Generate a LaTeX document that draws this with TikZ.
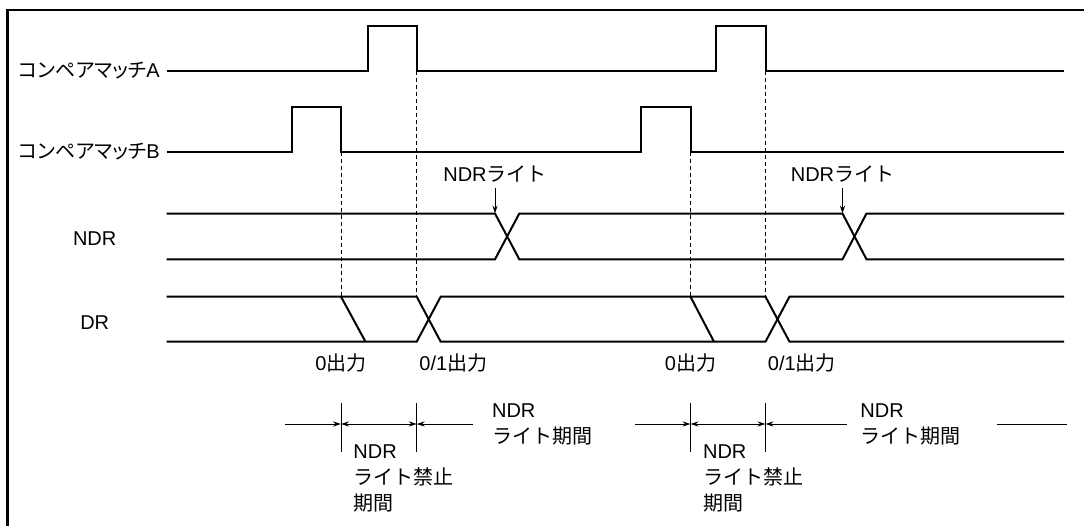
\documentclass[tikz,border=0pt]{standalone}
\usepackage{fontspec}
\setmainfont{Liberation Sans}
\newfontfamily\jpfont{Noto Sans CJK JP}
\newfontfamily\jpprop[RawFeature=+palt]{Noto Sans CJK JP}
\usetikzlibrary{arrows.meta,positioning}
\tikzset{
  sigline/.style={line width=1pt, line join=miter},
  guide/.style={line width=0.5pt, dash pattern=on 2pt off 1.5pt},
  tickmark/.style={line width=0.5pt},
  frameline/.style={line width=1.4pt},
  dimarr/.style={line width=0.5pt, -{Stealth[length=4pt, width=2.6pt]}},
  dimboth/.style={line width=0.5pt, {Stealth[length=4pt, width=2.6pt]}-{Stealth[length=4pt, width=2.6pt]}},
  pointer/.style={line width=0.5pt, -{Stealth[length=4pt, width=2.6pt]}, shorten <=2.5pt},
  siglabel/.style={inner sep=0pt, font=\fontsize{10}{12}\selectfont},
  notelabel/.style={inner sep=0pt, align=left, font=\fontsize{10}{13}\selectfont}
}

\begin{document}
\begin{tikzpicture}[x=0.5pt, y=-0.5pt]
    \useasboundingbox (0,0) rectangle (1084,526);
    \draw[frameline] (7.5,526) -- (7.5,10) -- (1084,10);

    \node[siglabel, anchor=east] (cmpa) at (160,70.7) {{\jpprop コンペアマッチ}A};
    \node[siglabel, anchor=east] (cmpb) at (160,151.7) {{\jpprop コンペアマッチ}B};
    \node[siglabel] (ndr) at (94.7,239) {NDR};
    \node[siglabel] (dr) at (94.7,322.7) {DR};

    \draw[sigline] (166.7,70.7) -| (367.7,25.7) -| (416.7,70.7) -| (715.6,25.7) -| (765.5,70.7) -- (1064,70.7);
    \draw[sigline] (166.7,151.7) -| (292.3,106.7) -| (341,151.7) -| (641,106.7) -| (690.5,151.7) -- (1064,151.7);

    \draw[sigline] (166.7,213.5) -- (495,213.5) -- (519.3,259.3) -- (842.5,259.3) -- (866.5,213.5) -- (1064,213.5);
    \draw[sigline] (166.7,259.3) -- (495,259.3) -- (519.3,213.5) -- (842.5,213.5) -- (866.5,259.3) -- (1064,259.3);

    \draw[sigline] (166.7,296.7) -- (416.7,296.7) -- (440.7,341.7) -- (765.5,341.7) -- (789.5,296.7) -- (1064,296.7);
    \draw[sigline] (166.7,341.7) -- (416.7,341.7) -- (440.7,296.7) -- (765.5,296.7) -- (789.5,341.7) -- (1064,341.7);
    \draw[sigline] (341,296.7) -- (365.5,341.7);
    \draw[sigline] (690.5,296.7) -- (714,341.7);

    \draw[guide] (341,151.7) -- (341,296.7);
    \draw[guide] (416.7,70.7) -- (416.7,296.7);
    \draw[guide] (690.5,151.7) -- (690.5,296.7);
    \draw[guide] (765.5,70.7) -- (765.5,296.7);

    \coordinate (ndrx1) at (495,213.5);
    \coordinate (ndrx2) at (842.5,213.5);
    \node[siglabel, above=15.5pt of ndrx1] (write1) {NDR{\jpfont ライト}};
    \node[siglabel, above=15.5pt of ndrx2] (write2) {NDR{\jpfont ライト}};
    \draw[pointer] (write1.south -| ndrx1) -- (ndrx1);
    \draw[pointer] (write2.south -| ndrx2) -- (ndrx2);

    \node[siglabel] (zero1) at (341,363) {0{\jpfont 出力}};
    \node[siglabel, anchor=west] (both1) at (419,363) {0/1{\jpfont 出力}};
    \node[siglabel] (zero2) at (690.5,363) {0{\jpfont 出力}};
    \node[siglabel, anchor=west] (both2) at (767.5,363) {0/1{\jpfont 出力}};

    \draw[tickmark] (341,403) -- (341,452);
    \draw[tickmark] (416.7,403) -- (416.7,452);
    \draw[tickmark] (690.5,403) -- (690.5,452);
    \draw[tickmark] (765.5,403) -- (765.5,452);

    \coordinate (t1) at (341,424);
    \coordinate (t2) at (416.7,424);
    \coordinate (t3) at (690.5,424);
    \coordinate (t4) at (765.5,424);
    \coordinate (in1) at (285,424);
    \coordinate (out1) at (472.7,424);
    \coordinate (in2) at (635,424);
    \coordinate (out2) at (846.7,424);
    \coordinate (tailL) at (996.7,424);
    \coordinate (tailR) at (1066.7,424);
    \draw[dimarr] (in1) -- (t1);
    \draw[dimboth] (t1) -- (t2);
    \draw[dimarr] (out1) -- (t2);
    \draw[dimarr] (in2) -- (t3);
    \draw[dimboth] (t3) -- (t4);
    \draw[dimarr] (out2) -- (t4);
    \draw[tickmark] (tailL) -- (tailR);

    \node[notelabel, anchor=base west] (ban1) at (353,510) {NDR\\{\jpfont ライト禁止}\\{\jpfont 期間}};
    \node[notelabel, anchor=base west] (ban2) at (702.7,510) {NDR\\{\jpfont ライト禁止}\\{\jpfont 期間}};
    \node[notelabel, anchor=base west] (per1) at (491.7,443) {NDR\\{\jpfont ライト期間}};
    \node[notelabel, anchor=base west] (per2) at (860,443) {NDR\\{\jpfont ライト期間}};
  \end{tikzpicture}
\end{document}
